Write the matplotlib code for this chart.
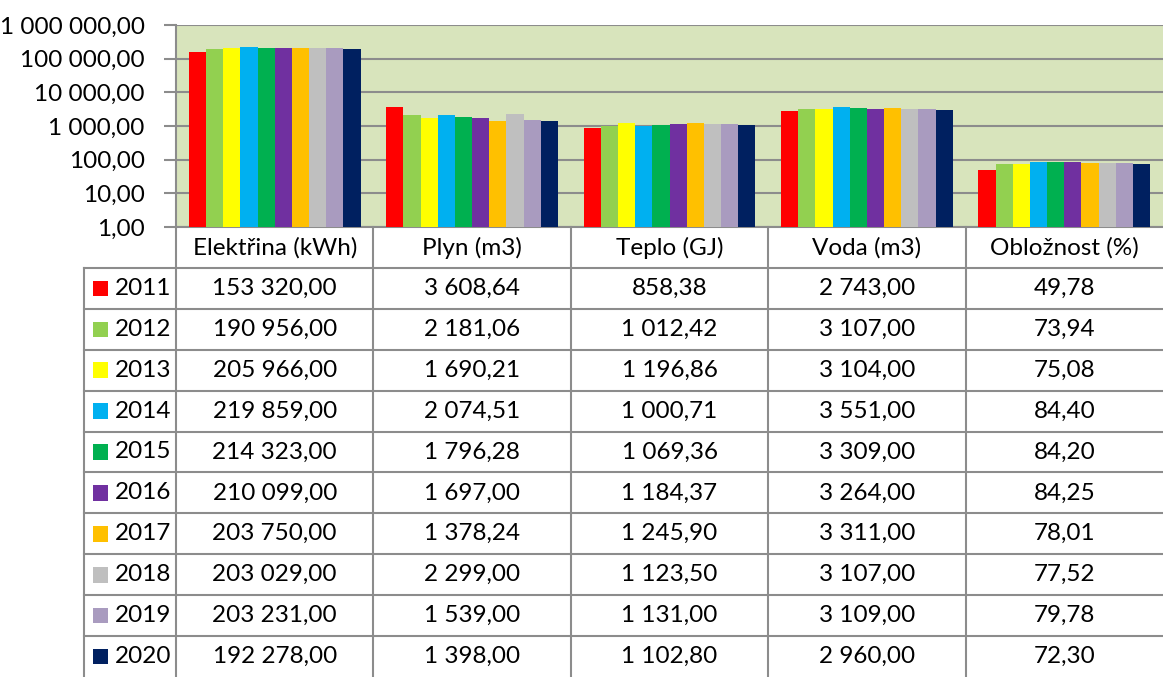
import numpy as np
import matplotlib
matplotlib.use('Agg')
import matplotlib.pyplot as plt
from matplotlib.patches import Rectangle
from matplotlib.ticker import FixedLocator, NullLocator

plt.rcParams['font.family'] = ['Lato', 'DejaVu Sans']

# ---- data ----
categories = ['Elektřina (kWh)', 'Plyn (m3)', 'Teplo (GJ)', 'Voda (m3)', 'Obložnost (%)']
years = ['2011', '2012', '2013', '2014', '2015', '2016', '2017', '2018', '2019', '2020']
elektrina = [153320.00, 190956.00, 205966.00, 219859.00, 214323.00,
             210099.00, 203750.00, 203029.00, 203231.00, 192278.00]
plyn = [3608.64, 2181.06, 1690.21, 2074.51, 1796.28,
        1697.00, 1378.24, 2299.00, 1539.00, 1398.00]
teplo = [858.38, 1012.42, 1196.86, 1000.71, 1069.36,
         1184.37, 1245.90, 1123.50, 1131.00, 1102.80]
voda = [2743.00, 3107.00, 3104.00, 3551.00, 3309.00,
        3264.00, 3311.00, 3107.00, 3109.00, 2960.00]
obloznost = [49.78, 73.94, 75.08, 84.40, 84.20,
             84.25, 78.01, 77.52, 79.78, 72.30]
colors = ['#FF0000', '#92D050', '#FFFF00', '#00B0F0', '#00B050',
          '#7030A0', '#FFC000', '#BFBFBF', '#A99BBF', '#002060']
yticks = [1, 10, 100, 1000, 10000, 100000, 1000000]

series = np.array([elektrina, plyn, teplo, voda, obloznost]).T  # rows = years


def fmt(v):
    return f"{v:,.2f}".replace(",", " ").replace(".", ",")


W, H = 1163, 677
GRID = '#8C8C8C'
FS = 17.5

fig = plt.figure(figsize=(W / 100, H / 100), dpi=100)

# ---- chart ----
ax = fig.add_axes([176 / W, (H - 227) / H, (W - 176) / W, (227 - 25) / H])
ax.set_facecolor('#D8E4BC')
n = len(years)
bw = 0.87 / n
x = np.arange(len(categories))
for i in range(n):
    ax.bar(x - 0.435 + bw * (i + 0.5), series[i], width=bw, bottom=1,
           color=colors[i], linewidth=0, zorder=3)
ax.set_yscale('log')
ax.set_ylim(1, 1e6)
ax.set_xlim(-0.5, len(categories) - 0.5)
ax.yaxis.set_major_locator(FixedLocator(yticks))
ax.yaxis.set_minor_locator(NullLocator())
ax.set_yticklabels([fmt(v) for v in yticks], fontsize=FS)
ax.set_xticks([])
ax.grid(axis='y', color=GRID, linewidth=1.5, zorder=1)
ax.tick_params(axis='y', length=9, width=1.5, color=GRID, pad=13.5)
for s in ['top', 'right']:
    ax.spines[s].set_visible(False)
for s in ['left', 'bottom']:
    ax.spines[s].set_color(GRID)
    ax.spines[s].set_linewidth(1.5)

# ---- data table ----
x0 = -0.5 - 92 / 197.4
tax = fig.add_axes([84 / W, 0, (W - 84) / W, (H - 227) / H])
tax.set_xlim(x0, len(categories) - 0.5)
tax.set_ylim(11, 0)
tax.axis('off')

lk = dict(color=GRID, linewidth=1.5, clip_on=False)
for b in np.arange(-0.5, len(categories) - 0.5):
    tax.plot([b, b], [0, 11], **lk)
tax.plot([x0, x0], [1, 11], **lk)
for r in range(1, 11):
    tax.plot([x0, len(categories) - 0.5], [r, r], **lk)

for j, c in enumerate(categories):
    tax.text(j, 0.5, c, ha='center', va='center', fontsize=FS)

sq_w = 15 / 197.4
for i in range(n):
    tax.add_patch(Rectangle((x0 + 9 / 197.4, i + 1.5 - 0.19), sq_w, 0.38,
                            facecolor=colors[i], edgecolor='none'))
    tax.text(x0 + 31 / 197.4, i + 1.5, years[i], ha='left', va='center', fontsize=FS)
    for j in range(len(categories)):
        tax.text(j, i + 1.5, fmt(series[i][j]), ha='center', va='center', fontsize=FS)

fig.savefig('out.png', dpi=100)
